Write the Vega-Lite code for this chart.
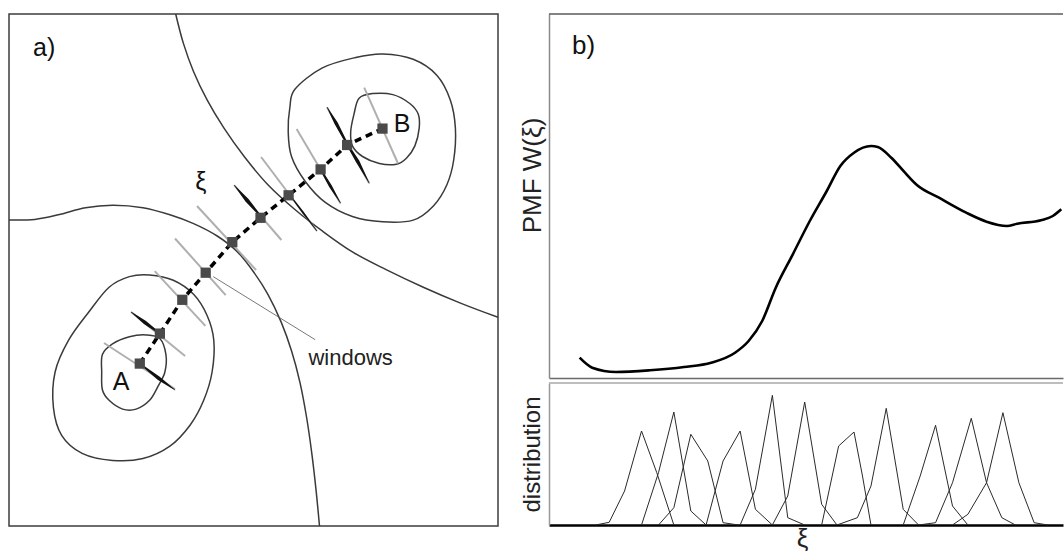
{
  "$schema": "https://vega.github.io/schema/vega-lite/v6.json",
  "background": "white",
  "padding": {"left": 5, "top": 10, "right": 0, "bottom": 0},
  "config": {
    "view": {"stroke": null},
    "font": "Liberation Sans",
    "axis": {"grid": false, "ticks": false, "labels": false, "titleFontWeight": "normal", "titleColor": "#222", "titleFont": "Liberation Sans"}
  },
  "spacing": 51,
  "bounds": "flush",
  "hconcat": [
    {
      "width": 489,
      "height": 512,
      "view": {"stroke": "#3c3c3c", "strokeWidth": 1.5},
      "layer": [
        {
          "data": {"values": [
            {"curve":"c1","ord":1,"x":0,"y":306},{"curve":"c1","ord":2,"x":25.8,"y":306.6},{"curve":"c1","ord":3,"x":49.4,"y":311.2},{"curve":"c1","ord":4,"x":76.5,"y":318.3},{"curve":"c1","ord":5,"x":103.5,"y":320.8},{"curve":"c1","ord":6,"x":133.9,"y":318.3},{"curve":"c1","ord":7,"x":160.9,"y":311.2},{"curve":"c1","ord":8,"x":184.6,"y":302.4},{"curve":"c1","ord":9,"x":208.2,"y":290.0},{"curve":"c1","ord":10,"x":228.5,"y":274.1},{"curve":"c1","ord":11,"x":245.4,"y":252.9},{"curve":"c1","ord":12,"x":258.9,"y":231.7},{"curve":"c1","ord":13,"x":272.4,"y":203.4},{"curve":"c1","ord":14,"x":282.5,"y":175.2},{"curve":"c1","ord":15,"x":291.0,"y":143.4},{"curve":"c1","ord":16,"x":297.7,"y":108.0},{"curve":"c1","ord":17,"x":302.8,"y":72.7},{"curve":"c1","ord":18,"x":306.9,"y":37.4},{"curve":"c1","ord":19,"x":310.5,"y":0},
            {"curve":"c2","ord":1,"x":166.7,"y":512},{"curve":"c2","ord":2,"x":174.4,"y":482.6},{"curve":"c2","ord":3,"x":184.6,"y":454.3},{"curve":"c2","ord":4,"x":198.1,"y":426.1},{"curve":"c2","ord":5,"x":215.0,"y":397.8},{"curve":"c2","ord":6,"x":235.2,"y":369.5},{"curve":"c2","ord":7,"x":258.9,"y":341.3},{"curve":"c2","ord":8,"x":285.9,"y":316.5},{"curve":"c2","ord":9,"x":312.9,"y":295.3},{"curve":"c2","ord":10,"x":343.4,"y":274.1},{"curve":"c2","ord":11,"x":377.1,"y":256.4},{"curve":"c2","ord":12,"x":414.3,"y":238.8},{"curve":"c2","ord":13,"x":451.5,"y":222.9},{"curve":"c2","ord":14,"x":489,"y":208.7}
          ]},
          "mark": {"type": "line", "interpolate": "catmull-rom", "color": "#3a3a3a", "strokeWidth": 1.5},
          "encoding": {
            "x": {"field": "x", "type": "quantitative", "scale": {"domain": [0, 489], "nice": false, "zero": false}, "axis": null},
            "y": {"field": "y", "type": "quantitative", "scale": {"domain": [0, 512], "nice": false, "zero": false}, "axis": null},
            "detail": {"field": "curve"},
            "order": {"field": "ord"}
          }
        },
        {
          "data": {"values": [
            {"loop":"innerB","ord":1,"x":350.1,"y":427.8},{"loop":"innerB","ord":2,"x":363.6,"y":432.4},{"loop":"innerB","ord":3,"x":383.9,"y":431.4},{"loop":"innerB","ord":4,"x":400.8,"y":422.5},{"loop":"innerB","ord":5,"x":409.2,"y":411.9},{"loop":"innerB","ord":6,"x":410.2,"y":397.8},{"loop":"innerB","ord":7,"x":405.9,"y":380.1},{"loop":"innerB","ord":8,"x":397.4,"y":367.8},{"loop":"innerB","ord":9,"x":387.3,"y":361.7},{"loop":"innerB","ord":10,"x":370.4,"y":362.5},{"loop":"innerB","ord":11,"x":353.5,"y":369.5},{"loop":"innerB","ord":12,"x":343.4,"y":380.1},{"loop":"innerB","ord":13,"x":341.7,"y":394.3},{"loop":"innerB","ord":14,"x":345.0,"y":411.9},
            {"loop":"outerB","ord":1,"x":285.9,"y":436.7},{"loop":"outerB","ord":2,"x":312.9,"y":457.9},{"loop":"outerB","ord":3,"x":346.7,"y":468.5},{"loop":"outerB","ord":4,"x":373.8,"y":472.0},{"loop":"outerB","ord":5,"x":404.2,"y":466.7},{"loop":"outerB","ord":6,"x":427.8,"y":450.8},{"loop":"outerB","ord":7,"x":441.3,"y":426.1},{"loop":"outerB","ord":8,"x":446.4,"y":397.8},{"loop":"outerB","ord":9,"x":444.7,"y":366.0},{"loop":"outerB","ord":10,"x":437.9,"y":341.3},{"loop":"outerB","ord":11,"x":424.4,"y":320.1},{"loop":"outerB","ord":12,"x":404.2,"y":305.9},{"loop":"outerB","ord":13,"x":373.8,"y":304.2},{"loop":"outerB","ord":14,"x":343.4,"y":309.5},{"loop":"outerB","ord":15,"x":316.3,"y":323.6},{"loop":"outerB","ord":16,"x":296.1,"y":344.8},{"loop":"outerB","ord":17,"x":282.5,"y":369.5},{"loop":"outerB","ord":18,"x":279.2,"y":394.3},{"loop":"outerB","ord":19,"x":280.9,"y":419.0},
            {"loop":"innerA","ord":1,"x":93.4,"y":171.6},{"loop":"innerA","ord":2,"x":103.5,"y":182.2},{"loop":"innerA","ord":3,"x":120.4,"y":189.3},{"loop":"innerA","ord":4,"x":137.3,"y":191.1},{"loop":"innerA","ord":5,"x":150.8,"y":187.5},{"loop":"innerA","ord":6,"x":156.9,"y":171.6},{"loop":"innerA","ord":7,"x":155.9,"y":154.0},{"loop":"innerA","ord":8,"x":149.1,"y":139.8},{"loop":"innerA","ord":9,"x":140.6,"y":125.7},{"loop":"innerA","ord":10,"x":127.1,"y":116.9},{"loop":"innerA","ord":11,"x":113.6,"y":116.9},{"loop":"innerA","ord":12,"x":100.1,"y":125.7},{"loop":"innerA","ord":13,"x":93.4,"y":136.3},{"loop":"innerA","ord":14,"x":92.7,"y":154.0},
            {"loop":"outerA","ord":1,"x":120.4,"y":249.4},{"loop":"outerA","ord":2,"x":140.6,"y":251.1},{"loop":"outerA","ord":3,"x":164.3,"y":245.8},{"loop":"outerA","ord":4,"x":184.6,"y":231.7},{"loop":"outerA","ord":5,"x":198.1,"y":210.5},{"loop":"outerA","ord":6,"x":204.8,"y":185.8},{"loop":"outerA","ord":7,"x":203.1,"y":154.0},{"loop":"outerA","ord":8,"x":194.7,"y":125.7},{"loop":"outerA","ord":9,"x":181.2,"y":101.0},{"loop":"outerA","ord":10,"x":160.9,"y":79.8},{"loop":"outerA","ord":11,"x":133.9,"y":67.4},{"loop":"outerA","ord":12,"x":103.5,"y":65.6},{"loop":"outerA","ord":13,"x":73.1,"y":72.7},{"loop":"outerA","ord":14,"x":52.8,"y":90.4},{"loop":"outerA","ord":15,"x":44.4,"y":118.6},{"loop":"outerA","ord":16,"x":46.1,"y":154.0},{"loop":"outerA","ord":17,"x":59.6,"y":185.8},{"loop":"outerA","ord":18,"x":79.8,"y":214.0},{"loop":"outerA","ord":19,"x":100.1,"y":238.8}
          ]},
          "mark": {"type": "line", "interpolate": "cardinal-closed", "color": "#3a3a3a", "strokeWidth": 1.5},
          "encoding": {
            "x": {"field": "x", "type": "quantitative", "scale": {"domain": [0, 489], "nice": false, "zero": false}, "axis": null},
            "y": {"field": "y", "type": "quantitative", "scale": {"domain": [0, 512], "nice": false, "zero": false}, "axis": null},
            "detail": {"field": "loop"},
            "order": {"field": "ord"}
          }
        },
        {
          "data": {"values": [
            {"w":1,"x":95.0,"y":183.0,"x2":166.0,"y2":137.0},
            {"w":2,"x":122.1,"y":214.0,"x2":176.1,"y2":169.9},
            {"w":3,"x":145.7,"y":254.9,"x2":196.4,"y2":200.1},
            {"w":4,"x":166.0,"y":287.5,"x2":216.7,"y2":230.9},
            {"w":5,"x":188.0,"y":320.0,"x2":247.1,"y2":256.0},
            {"w":6,"x":225.1,"y":340.8,"x2":272.4,"y2":286.0},
            {"w":7,"x":252.1,"y":369.0,"x2":307.9,"y2":295.0},
            {"w":8,"x":287.6,"y":397.0,"x2":331.5,"y2":322.8},
            {"w":9,"x":318.0,"y":418.8,"x2":360.2,"y2":342.8},
            {"w":10,"x":355.2,"y":438.4,"x2":389.0,"y2":362.5}
          ]},
          "mark": {"type": "rule", "color": "#a6a6a6", "strokeWidth": 2, "opacity": 0.9},
          "encoding": {
            "x": {"field": "x", "type": "quantitative", "scale": {"domain": [0, 489], "nice": false, "zero": false}, "axis": null},
            "y": {"field": "y", "type": "quantitative", "scale": {"domain": [0, 512], "nice": false, "zero": false}, "axis": null},
            "x2": {"field": "x2"},
            "y2": {"field": "y2"}
          }
        },
        {
          "data": {"values": [{"x":204.2,"y":249.4,"x2":306.2,"y2":186.3}]},
          "mark": {"type": "rule", "color": "#555", "strokeWidth": 0.8},
          "encoding": {
            "x": {"field": "x", "type": "quantitative", "scale": {"domain": [0, 489], "nice": false, "zero": false}, "axis": null},
            "y": {"field": "y", "type": "quantitative", "scale": {"domain": [0, 512], "nice": false, "zero": false}, "axis": null},
            "x2": {"field": "x2"},
            "y2": {"field": "y2"}
          }
        },
        {
          "data": {"values": [
            {"w":1,"ord":1,"x":132,"y":161.5,"s":1.2},{"w":1,"ord":2,"x":150,"y":147.5,"s":3.5},{"w":1,"ord":3,"x":166,"y":136,"s":0.5},
            {"w":2,"ord":1,"x":122.1,"y":214,"s":0.5},{"w":2,"ord":2,"x":136,"y":203.5,"s":3.5},{"w":2,"ord":3,"x":150.9,"y":192.4,"s":1.5},
            {"w":6,"ord":1,"x":225.1,"y":340.8,"s":0.5},{"w":6,"ord":2,"x":238,"y":325.8,"s":4},{"w":6,"ord":3,"x":251.5,"y":310,"s":1.5},
            {"w":7,"ord":1,"x":280,"y":332,"s":1},{"w":7,"ord":2,"x":294,"y":313.5,"s":2},{"w":7,"ord":3,"x":307.9,"y":295,"s":0.5},
            {"w":8,"ord":1,"x":311.6,"y":356.6,"s":1.5},{"w":8,"ord":2,"x":321.5,"y":339.7,"s":3},{"w":8,"ord":3,"x":331.5,"y":322.8,"s":0.5},
            {"w":9,"ord":1,"x":318,"y":418.8,"s":0.5},{"w":9,"ord":2,"x":327,"y":403,"s":3.5},{"w":9,"ord":3,"x":338.1,"y":382,"s":2},{"w":9,"ord":4,"x":349,"y":364,"s":3.5},{"w":9,"ord":5,"x":360.2,"y":342.8,"s":0.5}
          ]},
          "mark": {"type": "trail", "color": "#111"},
          "encoding": {
            "x": {"field": "x", "type": "quantitative", "scale": {"domain": [0, 489], "nice": false, "zero": false}, "axis": null},
            "y": {"field": "y", "type": "quantitative", "scale": {"domain": [0, 512], "nice": false, "zero": false}, "axis": null},
            "size": {"field": "s", "type": "quantitative", "scale": {"domain": [0, 4], "range": [0, 4], "zero": true}, "legend": null},
            "detail": {"field": "w"},
            "order": {"field": "ord"}
          }
        },
        {
          "data": {"name": "path", "values": [
            {"n":1,"x":130.8,"y":162.4},{"n":2,"x":150.9,"y":192.4},{"n":3,"x":173.3,"y":226.2},{"n":4,"x":196.7,"y":253.3},{"n":5,"x":223.3,"y":283.9},{"n":6,"x":251.5,"y":308.2},{"n":7,"x":279.6,"y":330.7},{"n":8,"x":311.6,"y":356.6},{"n":9,"x":338.1,"y":381.0},{"n":10,"x":373.5,"y":397.4}
          ]},
          "layer": [
            {
              "mark": {"type": "line", "color": "#000", "strokeWidth": 3.5, "strokeDash": [7, 5]},
              "encoding": {
                "x": {"field": "x", "type": "quantitative", "scale": {"domain": [0, 489], "nice": false, "zero": false}, "axis": null},
                "y": {"field": "y", "type": "quantitative", "scale": {"domain": [0, 512], "nice": false, "zero": false}, "axis": null},
                "order": {"field": "n"}
              }
            },
            {
              "mark": {"type": "point", "shape": "square", "filled": true, "size": 105, "color": "#4a4a4a", "opacity": 1},
              "encoding": {
                "x": {"field": "x", "type": "quantitative", "scale": {"domain": [0, 489], "nice": false, "zero": false}, "axis": null},
                "y": {"field": "y", "type": "quantitative", "scale": {"domain": [0, 512], "nice": false, "zero": false}, "axis": null}
              }
            }
          ]
        },
        {
          "data": {"values": [
            {"label":"a)","x":35.2,"y":470.5},{"label":"A","x":112,"y":135.6},{"label":"B","x":393,"y":394.3},{"label":"ξ","x":191.9,"y":336}
          ]},
          "mark": {"type": "text", "fontSize": 25, "align": "center", "baseline": "alphabetic", "color": "#111", "font": "Liberation Sans"},
          "encoding": {
            "x": {"field": "x", "type": "quantitative", "scale": {"domain": [0, 489], "nice": false, "zero": false}, "axis": null},
            "y": {"field": "y", "type": "quantitative", "scale": {"domain": [0, 512], "nice": false, "zero": false}, "axis": null},
            "text": {"field": "label"}
          }
        },
        {
          "data": {"values": [{"label":"windows","x":341.6,"y":161}]},
          "mark": {"type": "text", "fontSize": 22, "align": "center", "baseline": "alphabetic", "color": "#222", "font": "Liberation Sans"},
          "encoding": {
            "x": {"field": "x", "type": "quantitative", "scale": {"domain": [0, 489], "nice": false, "zero": false}, "axis": null},
            "y": {"field": "y", "type": "quantitative", "scale": {"domain": [0, 512], "nice": false, "zero": false}, "axis": null},
            "text": {"field": "label"}
          }
        }
      ]
    },
    {
      "spacing": 5,
      "bounds": "flush",
      "vconcat": [
        {
          "width": 514,
          "height": 364,
          "layer": [
            {
              "data": {"values": [
                {"xi":30.7,"w":20.3},{"xi":43.3,"w":10.3},{"xi":67.1,"w":6},{"xi":101.2,"w":7.7},{"xi":135.3,"w":11},{"xi":162.5,"w":15.3},{"xi":186.4,"w":25.3},{"xi":200,"w":37},{"xi":213.6,"w":57},{"xi":227.2,"w":90.3},{"xi":244.3,"w":123.7},{"xi":261.3,"w":157},{"xi":278.3,"w":187},{"xi":291.9,"w":212},{"xi":305.6,"w":225.3},{"xi":322.6,"w":232},{"xi":329.4,"w":231},{"xi":343,"w":220.3},{"xi":356.7,"w":205.3},{"xi":368.6,"w":193},{"xi":390.7,"w":180.3},{"xi":418,"w":165.3},{"xi":438.4,"w":156.3},{"xi":458.8,"w":152},{"xi":469.1,"w":154.3},{"xi":492.9,"w":157.7},{"xi":504.8,"w":162},{"xi":513.3,"w":168.7}
              ]},
              "mark": {"type": "line", "interpolate": "monotone", "color": "#000", "strokeWidth": 2.6},
              "encoding": {
                "x": {"field": "xi", "type": "quantitative", "scale": {"domain": [0, 515], "nice": false, "zero": false}, "axis": {"orient": "bottom", "domain": true, "domainColor": "#6a6a6a", "domainWidth": 1.5, "title": null}},
                "y": {"field": "w", "type": "quantitative", "scale": {"domain": [0, 364], "nice": false, "zero": false}, "axis": {"domain": true, "domainColor": "#8a8a8a", "domainWidth": 1.5, "title": "PMF W(ξ)", "titleFontSize": 26, "titlePadding": 4, "titleY": 161}}
              }
            },
            {
              "data": {"values": [{"edge": "top"}]},
              "mark": {"type": "rule", "color": "#5a5a5a", "strokeWidth": 1.5},
              "encoding": {"y": {"datum": 364}}
            },
            {
              "data": {"values": [{"label": "b)", "x": 23, "y": 323.7}]},
              "mark": {"type": "text", "fontSize": 26, "align": "left", "baseline": "alphabetic", "color": "#111", "font": "Liberation Sans"},
              "encoding": {
                "x": {"field": "x", "type": "quantitative", "scale": {"domain": [0, 515], "nice": false, "zero": false}},
                "y": {"field": "y", "type": "quantitative", "scale": {"domain": [0, 364], "nice": false, "zero": false}},
                "text": {"field": "label"}
              }
            }
          ]
        },
        {
          "width": 514,
          "height": 142,
          "layer": [
            {
              "data": {"values": [
                {"win":1,"ord":1,"xi":46.7,"d":0},{"win":1,"ord":2,"xi":60.3,"d":2.7},{"win":1,"ord":3,"xi":75.7,"d":34},{"win":1,"ord":4,"xi":92.7,"d":94},{"win":1,"ord":5,"xi":108.0,"d":52.3},{"win":1,"ord":6,"xi":125.1,"d":0},
                {"win":2,"ord":1,"xi":92.7,"d":0},{"win":2,"ord":2,"xi":109.7,"d":52.3},{"win":2,"ord":3,"xi":125.1,"d":113},{"win":2,"ord":4,"xi":142.1,"d":14},{"win":2,"ord":5,"xi":157.4,"d":0},
                {"win":3,"ord":1,"xi":109.7,"d":0},{"win":3,"ord":2,"xi":125.1,"d":17.3},{"win":3,"ord":3,"xi":142.1,"d":90.7},{"win":3,"ord":4,"xi":159.1,"d":64},{"win":3,"ord":5,"xi":174.4,"d":2.3},{"win":3,"ord":6,"xi":189.8,"d":0},
                {"win":4,"ord":1,"xi":157.4,"d":0},{"win":4,"ord":2,"xi":174.4,"d":64},{"win":4,"ord":3,"xi":191.5,"d":94},{"win":4,"ord":4,"xi":206.8,"d":15.7},{"win":4,"ord":5,"xi":223.8,"d":0},
                {"win":5,"ord":1,"xi":191.5,"d":0},{"win":5,"ord":2,"xi":206.8,"d":35.7},{"win":5,"ord":3,"xi":223.8,"d":129.7},{"win":5,"ord":4,"xi":239.2,"d":7.3},{"win":5,"ord":5,"xi":256.2,"d":0},
                {"win":6,"ord":1,"xi":223.8,"d":0},{"win":6,"ord":2,"xi":239.2,"d":29},{"win":6,"ord":3,"xi":256.2,"d":123},{"win":6,"ord":4,"xi":273.2,"d":20.7},{"win":6,"ord":5,"xi":288.5,"d":0},
                {"win":7,"ord":1,"xi":273.2,"d":0},{"win":7,"ord":2,"xi":290.2,"d":79},{"win":7,"ord":3,"xi":305.6,"d":93},{"win":7,"ord":4,"xi":314.1,"d":49},{"win":7,"ord":5,"xi":322.6,"d":0},
                {"win":8,"ord":1,"xi":288.5,"d":0},{"win":8,"ord":2,"xi":309.0,"d":7.3},{"win":8,"ord":3,"xi":322.6,"d":39},{"win":8,"ord":4,"xi":337.9,"d":116.7},{"win":8,"ord":5,"xi":354.9,"d":15.7},{"win":8,"ord":6,"xi":370.3,"d":0},
                {"win":9,"ord":1,"xi":354.9,"d":0},{"win":9,"ord":2,"xi":371.9,"d":49},{"win":9,"ord":3,"xi":387.3,"d":99.7},{"win":9,"ord":4,"xi":404.3,"d":19},{"win":9,"ord":5,"xi":419.7,"d":0},
                {"win":10,"ord":1,"xi":370.3,"d":0},{"win":10,"ord":2,"xi":387.3,"d":2.3},{"win":10,"ord":3,"xi":404.3,"d":42.3},{"win":10,"ord":4,"xi":423.1,"d":106.7},{"win":10,"ord":5,"xi":438.4,"d":42.3},{"win":10,"ord":6,"xi":453.7,"d":7.3},{"win":10,"ord":7,"xi":467.4,"d":0},
                {"win":11,"ord":1,"xi":404.3,"d":0},{"win":11,"ord":2,"xi":419.7,"d":10.7},{"win":11,"ord":3,"xi":438.4,"d":42.3},{"win":11,"ord":4,"xi":454.8,"d":112.3},{"win":11,"ord":5,"xi":470.8,"d":42.3},{"win":11,"ord":6,"xi":486.1,"d":2.3},{"win":11,"ord":7,"xi":499.7,"d":0}
              ]},
              "mark": {"type": "line", "color": "#2a2a2a", "strokeWidth": 1},
              "encoding": {
                "x": {"field": "xi", "type": "quantitative", "scale": {"domain": [0, 515], "nice": false, "zero": false}, "axis": {"orient": "bottom", "domain": true, "domainColor": "#000", "domainWidth": 2.5, "title": "ξ", "titleFontSize": 26, "titlePadding": 0, "titleX": 253}},
                "y": {"field": "d", "type": "quantitative", "scale": {"domain": [0, 142], "nice": false, "zero": false}, "axis": {"domain": true, "domainColor": "#9a9a9a", "domainWidth": 1.5, "title": "distribution", "titleFontSize": 24, "titlePadding": 5}},
                "detail": {"field": "win"},
                "order": {"field": "ord"}
              }
            },
            {
              "data": {"values": [{"edge": "top"}]},
              "mark": {"type": "rule", "color": "#a8a8a8", "strokeWidth": 1.5},
              "encoding": {"y": {"datum": 142}}
            }
          ]
        }
      ]
    }
  ]
}
